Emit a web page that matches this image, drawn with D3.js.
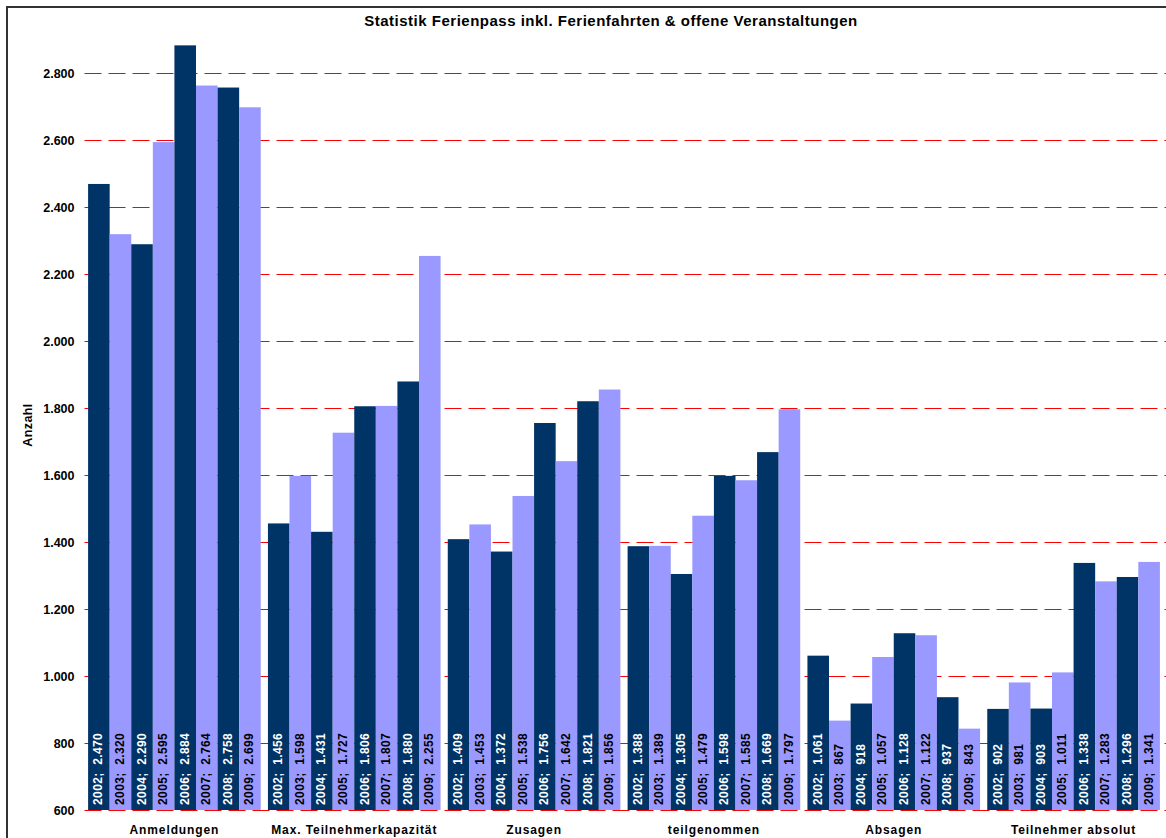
<!DOCTYPE html>
<html>
<head>
<meta charset="utf-8">
<script src="https://cdn.jsdelivr.net/npm/d3@7"></script>
<style>
  body { margin: 0; background: #fff; }
  text { font-family: Arial, "Liberation Sans", sans-serif; }
</style>
</head>
<body>
<div id="chart"></div>
<script>
const categories = ["Anmeldungen", "Max. Teilnehmerkapazität", "Zusagen", "teilgenommen", "Absagen", "Teilnehmer absolut"];
const years = ["2002", "2003", "2004", "2005", "2006", "2007", "2008", "2009"];
const anmeldungen = [2470, 2320, 2290, 2595, 2884, 2764, 2758, 2699];
const kapazitaet = [1456, 1598, 1431, 1727, 1806, 1807, 1880, 2255];
const zusagen = [1409, 1453, 1372, 1538, 1756, 1642, 1821, 1856];
const teilgenommen = [1388, 1389, 1305, 1479, 1598, 1585, 1669, 1797];
const absagen = [1061, 867, 918, 1057, 1128, 1122, 937, 843];
const teilnehmerAbsolut = [902, 981, 903, 1011, 1338, 1283, 1296, 1341];
const yTicks = [600, 800, 1000, 1200, 1400, 1600, 1800, 2000, 2200, 2400, 2600, 2800];

const seriesByCategory = [anmeldungen, kapazitaet, zusagen, teilgenommen, absagen, teilnehmerAbsolut];
const colors = ["#003366", "#9999FF"];

const width = 1166, height = 838;
const plotLeft = 84.5, plotRight = 1163.5, plotTop = 40, plotBottom = 810;

const svg = d3.select("#chart").append("svg")
  .attr("width", width)
  .attr("height", height);

// frame
svg.append("rect")
  .attr("x", 7).attr("y", 7)
  .attr("width", 1300).attr("height", 1000)
  .attr("fill", "none")
  .attr("stroke", "#333")
  .attr("stroke-width", 2);

const x0 = d3.scaleBand().domain(categories).range([plotLeft, plotRight]).paddingInner(0.04).paddingOuter(0.02);
const x1 = d3.scaleBand().domain(years).range([0, x0.bandwidth()]);
const y = d3.scaleLinear().domain([600, 2900]).range([plotBottom, plotTop]);

// gridlines
svg.append("g")
  .selectAll("line")
  .data(yTicks)
  .join("line")
  .attr("x1", plotLeft)
  .attr("x2", width)
  .attr("y1", d => Math.round(y(d)) + 0.5)
  .attr("y2", d => Math.round(y(d)) + 0.5)
  .attr("stroke", "#FF0000")
  .attr("stroke-width", 1)
  .attr("stroke-dasharray", "17,7");

const fmt = v => d3.format(",")(v).replace(/,/g, ".");

// y axis labels
svg.append("g")
  .attr("transform", `translate(${plotLeft - 10},0)`)
  .call(d3.axisLeft(y).tickValues(yTicks).tickSize(0).tickPadding(0).tickFormat(fmt))
  .call(g => g.select(".domain").remove())
  .selectAll("text")
  .attr("font-size", 12.5)
  .attr("font-weight", "bold")
  .attr("font-family", "Arial, 'Liberation Sans', sans-serif")
  .attr("fill", "#000");

svg.append("text")
  .attr("transform", "translate(32,425) rotate(-90)")
  .attr("text-anchor", "middle")
  .attr("font-size", 12.5)
  .attr("font-weight", "bold")
  .attr("letter-spacing", 0.4)
  .text("Anzahl");

// title
svg.append("text")
  .attr("x", 611)
  .attr("y", 26)
  .attr("text-anchor", "middle")
  .attr("font-size", 15)
  .attr("font-weight", "bold")
  .attr("letter-spacing", 0.5)
  .text("Statistik Ferienpass inkl. Ferienfahrten & offene Veranstaltungen");

// bars
const groups = svg.append("g")
  .selectAll("g")
  .data(categories.map((c, i) => ({ cat: c, values: seriesByCategory[i] })))
  .join("g")
  .attr("transform", d => `translate(${x0(d.cat)},0)`);

const cells = groups.selectAll("g")
  .data(d => d.values.map((v, j) => ({ year: years[j], value: v, j })))
  .join("g");

cells.append("rect")
  .attr("x", d => x1(d.year))
  .attr("y", d => y(d.value))
  .attr("width", x1.bandwidth())
  .attr("height", d => plotBottom - y(d.value))
  .attr("fill", d => colors[d.j % 2]);

cells.append("text")
  .attr("transform", d => `translate(${x1(d.year) + x1.bandwidth() / 2 + 3.5},${plotBottom - 5}) rotate(-90)`)
  .attr("font-size", 12)
  .attr("font-weight", "bold")
  .attr("letter-spacing", 0.4)
  .attr("fill", d => d.j % 2 === 0 ? "#fff" : "#000")
  .style("white-space", "pre")
  .text(d => `${d.year};  ${fmt(d.value)}`);

// category labels
svg.append("g")
  .selectAll("text")
  .data(categories)
  .join("text")
  .attr("x", d => x0(d) + x0.bandwidth() / 2)
  .attr("y", 834)
  .attr("text-anchor", "middle")
  .attr("font-size", 12)
  .attr("font-weight", "bold")
  .attr("letter-spacing", 0.9)
  .text(d => d);
</script>
</body>
</html>
